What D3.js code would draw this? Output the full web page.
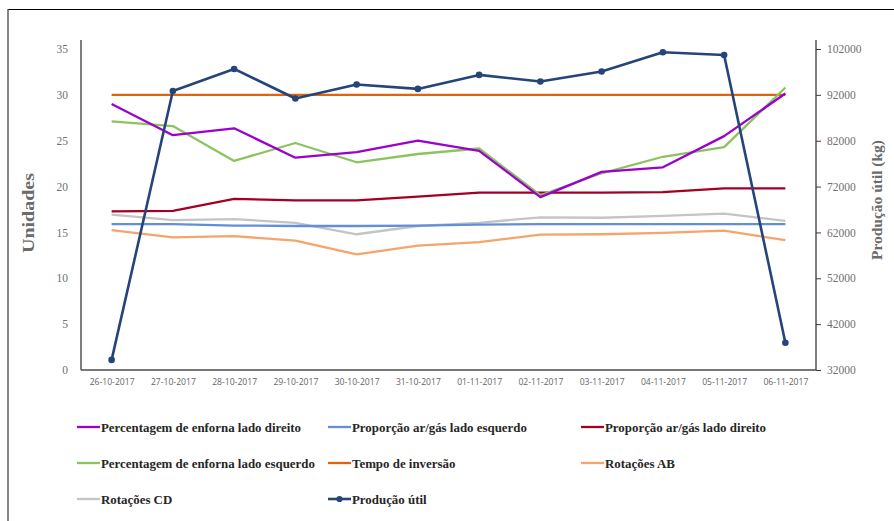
<!DOCTYPE html>
<html>
<head>
<meta charset="utf-8">
<script src="https://cdn.jsdelivr.net/npm/d3@7/dist/d3.min.js"></script>
<style>
  html, body { margin: 0; padding: 0; background: #fff; }
  svg { display: block; }
</style>
</head>
<body>
<svg id="chart" width="894" height="521"></svg>
<script>
// Dates on the horizontal axis
const dates = ["26-10-2017","27-10-2017","28-10-2017","29-10-2017","30-10-2017","31-10-2017",
               "01-11-2017","02-11-2017","03-11-2017","04-11-2017","05-11-2017","06-11-2017"];

// Left-axis series (Unidades)
const enfornaDireito  = [29.0, 25.6, 26.35, 23.15, 23.75, 25.0, 23.9, 18.85, 21.6, 22.1, 25.5, 30.15];
const enfornaEsquerdo = [27.1, 26.6, 22.8, 24.75, 22.65, 23.55, 24.15, 19.05, 21.45, 23.25, 24.3, 30.8];
const arGasDireito    = [17.3, 17.35, 18.65, 18.5, 18.5, 18.9, 19.35, 19.35, 19.35, 19.4, 19.8, 19.8];
const arGasEsquerdo   = [15.9, 15.9, 15.75, 15.7, 15.7, 15.75, 15.85, 15.9, 15.9, 15.9, 15.9, 15.9];
const tempoInversao   = [30, 30, 30, 30, 30, 30, 30, 30, 30, 30, 30, 30];
const rotacoesAB      = [15.25, 14.45, 14.6, 14.1, 12.6, 13.55, 13.95, 14.75, 14.8, 14.95, 15.2, 14.15];
const rotacoesCD      = [16.95, 16.35, 16.45, 16.05, 14.8, 15.7, 16.05, 16.65, 16.6, 16.8, 17.05, 16.25];

// Right-axis series (kg)
const producaoUtil = [34200, 92850, 97650, 91200, 94250, 93300, 96350, 94900, 97100, 101300, 100700, 37950];

// Tick values
const leftTicks  = [0, 5, 10, 15, 20, 25, 30, 35];
const rightTicks = [32000, 42000, 52000, 62000, 72000, 82000, 92000, 102000];

const series = [
  { name: "Percentagem de enforna lado direito",  values: enfornaDireito,  color: "#9A00CF", axis: "L" },
  { name: "Proporção ar/gás lado esquerdo",        values: arGasEsquerdo,   color: "#628FD8", axis: "L" },
  { name: "Proporção ar/gás lado direito",         values: arGasDireito,    color: "#A30024", axis: "L" },
  { name: "Percentagem de enforna lado esquerdo", values: enfornaEsquerdo, color: "#8DC35F", axis: "L" },
  { name: "Tempo de inversão",                     values: tempoInversao,   color: "#E0640F", axis: "L" },
  { name: "Rotações AB",                           values: rotacoesAB,      color: "#F5A46C", axis: "L" },
  { name: "Rotações CD",                           values: rotacoesCD,      color: "#C4C4C4", axis: "L" },
  { name: "Produção útil",                         values: producaoUtil,    color: "#25457A", axis: "R", marker: true }
];

// Draw order: back to front
const drawOrder = ["Rotações CD", "Proporção ar/gás lado esquerdo", "Rotações AB", "Proporção ar/gás lado direito",
                   "Tempo de inversão", "Percentagem de enforna lado esquerdo", "Percentagem de enforna lado direito",
                   "Produção útil"];

const svg = d3.select("#chart");
const plot = { left: 81, right: 816, top: 49, bottom: 370 };

const x = d3.scalePoint().domain(dates).range([plot.left, plot.right]).padding(0.5);
const yL = d3.scaleLinear().domain([0, 35]).range([plot.bottom, plot.top]);
const yR = d3.scaleLinear().domain([32000, 102000]).range([plot.bottom, plot.top]);

const serif = "'Liberation Serif', 'DejaVu Serif', serif";
const sans = "'Open Sans', 'Liberation Sans', sans-serif";

// Outer frame (top and left edges)
svg.append("line").attr("x1", 8).attr("x2", 894).attr("y1", 9.5).attr("y2", 9.5)
  .attr("stroke", "#000").attr("stroke-width", 1.2);
svg.append("line").attr("x1", 8).attr("x2", 8).attr("y1", 9).attr("y2", 521)
  .attr("stroke", "#555").attr("stroke-width", 1.4);

// Left axis
const gL = svg.append("g").attr("transform", `translate(${plot.left},0)`)
  .call(d3.axisLeft(yL).tickValues(leftTicks).tickSize(0).tickPadding(13).tickFormat(d3.format("d")));
gL.select(".domain").attr("stroke", "#3a3a3a").attr("stroke-width", 1.3)
  .attr("d", `M0,40V${plot.bottom}`);
gL.selectAll("text").attr("font-family", serif).attr("font-size", 11.5).attr("fill", "#707070");

// Right axis
const gR = svg.append("g").attr("transform", `translate(${plot.right},0)`)
  .call(d3.axisRight(yR).tickValues(rightTicks).tickSize(5).tickPadding(6).tickFormat(d3.format("d")));
gR.select(".domain").attr("stroke", "#3a3a3a").attr("stroke-width", 1.3)
  .attr("d", `M0,40V${plot.bottom}`);
gR.selectAll(".tick line").attr("stroke", "#3a3a3a");
gR.selectAll("text").attr("font-family", serif).attr("font-size", 11.5).attr("fill", "#707070");

// Bottom axis
const gB = svg.append("g").attr("transform", `translate(0,${plot.bottom})`)
  .call(d3.axisBottom(x).tickSize(0).tickPadding(9));
gB.select(".domain").attr("stroke", "#4a4a4a").attr("stroke-width", 1.6)
  .attr("d", `M${plot.left},0H${plot.right}`);
gB.selectAll("text").attr("font-family", sans).attr("font-size", 8.6).attr("fill", "#666");

// Axis titles
svg.append("text").attr("transform", "translate(34,213) rotate(-90)")
  .attr("text-anchor", "middle").attr("font-family", serif).attr("font-weight", "bold")
  .attr("font-size", 17.5).attr("fill", "#6b6b6b")
  .attr("textLength", 80).attr("lengthAdjust", "spacingAndGlyphs").text("Unidades");
svg.append("text").attr("transform", "translate(882,200) rotate(-90)")
  .attr("text-anchor", "middle").attr("font-family", serif).attr("font-weight", "bold")
  .attr("font-size", 15.5).attr("fill", "#6b6b6b")
  .attr("textLength", 120).attr("lengthAdjust", "spacingAndGlyphs").text("Produção útil (kg)");

// Lines
const lineGen = (yScale) => d3.line().x((d, i) => x(dates[i])).y(d => yScale(d));
const byName = new Map(series.map(s => [s.name, s]));
drawOrder.forEach(name => {
  const s = byName.get(name);
  const yScale = s.axis === "R" ? yR : yL;
  svg.append("path").datum(s.values)
    .attr("fill", "none").attr("stroke", s.color).attr("stroke-width", s.marker ? 2.6 : 2.3)
    .attr("stroke-linejoin", "round")
    .attr("d", lineGen(yScale));
  if (s.marker) {
    svg.append("g").selectAll("circle").data(s.values).join("circle")
      .attr("cx", (d, i) => x(dates[i])).attr("cy", d => yScale(d))
      .attr("r", 3.3).attr("fill", s.color);
  }
});

// Legend: three columns, three rows
const legendCols = [77, 328, 581];
const legendRows = [427, 463, 499];
series.forEach((s, i) => {
  const cx = legendCols[i % 3], cy = legendRows[Math.floor(i / 3)];
  const g = svg.append("g");
  g.append("line").attr("x1", cx).attr("x2", cx + 23).attr("y1", cy).attr("y2", cy)
    .attr("stroke", s.color).attr("stroke-width", s.marker ? 2.6 : 2.3);
  if (s.marker) {
    g.append("circle").attr("cx", cx + 11.5).attr("cy", cy).attr("r", 3.1).attr("fill", s.color);
  }
  g.append("text").attr("x", cx + 24).attr("y", cy).attr("dy", "0.35em")
    .attr("font-family", serif).attr("font-weight", "bold").attr("font-size", 12.9)
    .attr("fill", "#262626").text(s.name);
});
</script>
</body>
</html>
